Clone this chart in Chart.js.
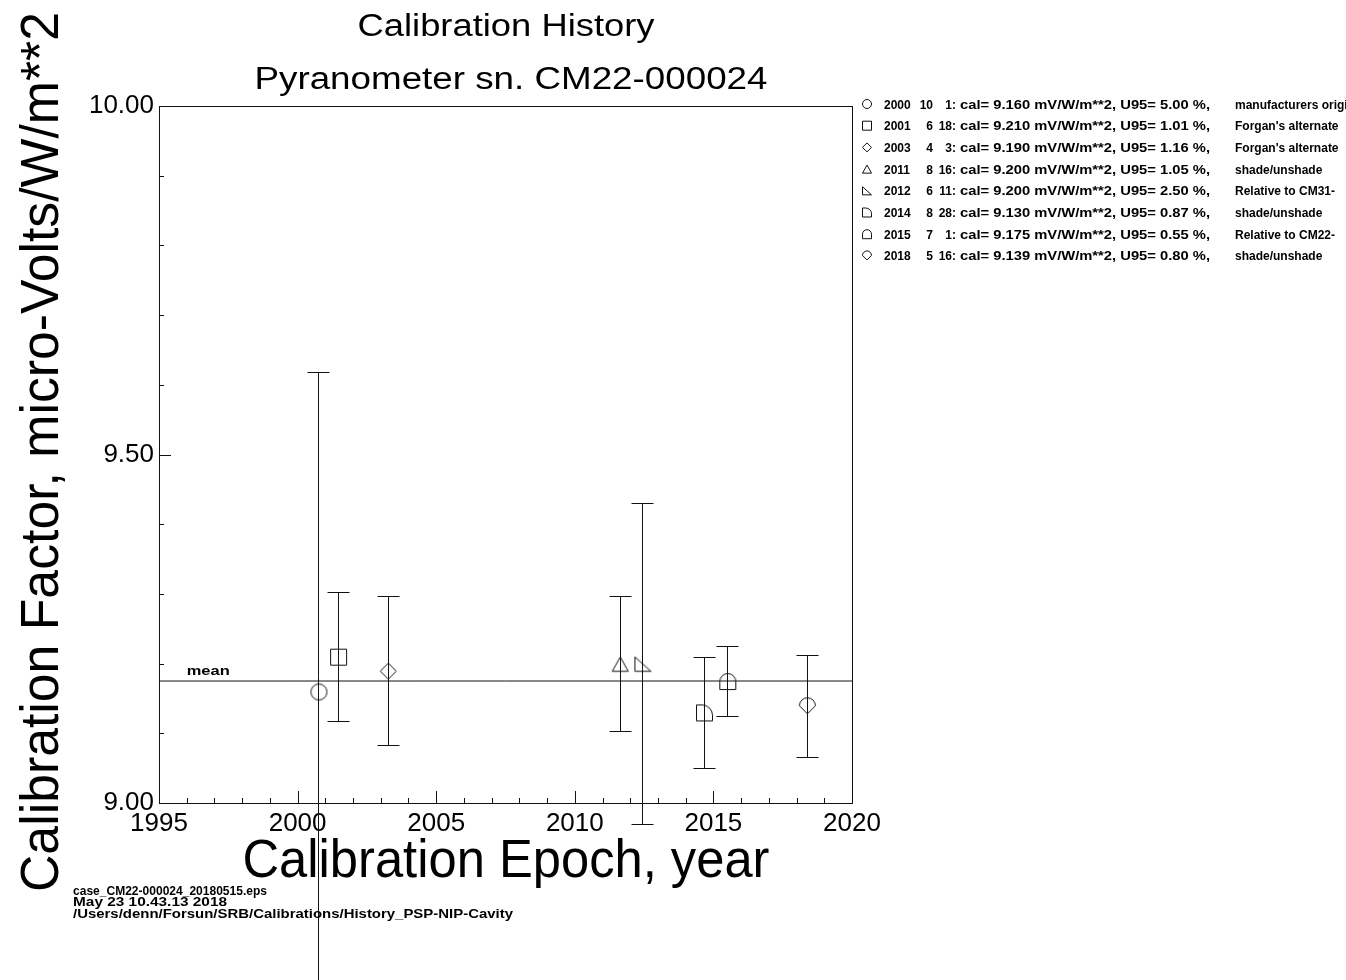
<!DOCTYPE html>
<html><head><meta charset="utf-8">
<script src="https://cdn.jsdelivr.net/npm/chart.js@4.4.1/dist/chart.umd.min.js"></script>
<style>html,body{margin:0;padding:0;background:#fff;} canvas{display:block;}</style>
</head><body>
<canvas id="c" width="1346" height="980"></canvas>
<script>
// ---- data ----
const epochs    = [2000.75, 2001.46, 2003.25, 2011.62, 2012.44, 2014.66, 2015.50, 2018.37];
const years     = [2000, 2001, 2003, 2011, 2012, 2014, 2015, 2018];
const months    = [10, 6, 4, 8, 6, 8, 7, 5];
const days      = [1, 18, 3, 16, 11, 28, 1, 16];
const calValues = [9.160, 9.210, 9.190, 9.200, 9.200, 9.130, 9.175, 9.139];
const u95       = [5.00, 1.01, 1.16, 1.05, 2.50, 0.87, 0.55, 0.80];
const notes     = ["manufacturers original", "Forgan's alternate", "Forgan's alternate", "shade/unshade",
                   "Relative to CM31-", "shade/unshade", "Relative to CM22-", "shade/unshade"];
const shapes    = ['circle', 'square', 'diamond', 'triangle', 'rightTri', 'quarter', 'arch', 'pin'];
const meanValue = 9.175;
const xTickValues = [1995, 2000, 2005, 2010, 2015, 2020];
const yTickValues = [9.00, 9.50, 10.00];
const titleLines = ["Calibration History", "Pyranometer sn. CM22-000024"];
const xTitle = "Calibration Epoch, year";
const yTitle = "Calibration Factor, micro-Volts/W/m**2";
const footerLines = ["case_CM22-000024_20180515.eps", "May 23 10.43.13 2018",
                     "/Users/denn/Forsun/SRB/Calibrations/History_PSP-NIP-Cavity"];

const FONT = '"Liberation Sans", Arial, Helvetica, sans-serif';
const INK = '#111';

function shapePath(ctx, shape, cx, cy, s) {
  ctx.beginPath();
  switch (shape) {
    case 'circle': ctx.arc(cx, cy, s, 0, Math.PI * 2); break;
    case 'square': ctx.rect(cx - s, cy - s, 2 * s, 2 * s); break;
    case 'diamond':
      ctx.moveTo(cx, cy - s); ctx.lineTo(cx + s, cy); ctx.lineTo(cx, cy + s); ctx.lineTo(cx - s, cy); ctx.closePath(); break;
    case 'triangle':
      ctx.moveTo(cx, cy - s * 0.9); ctx.lineTo(cx + s, cy + s * 0.9); ctx.lineTo(cx - s, cy + s * 0.9); ctx.closePath(); break;
    case 'rightTri':
      ctx.moveTo(cx - s, cy - s * 0.9); ctx.lineTo(cx - s, cy + s * 0.9); ctx.lineTo(cx + s, cy + s * 0.9); ctx.closePath(); break;
    case 'quarter':
      ctx.moveTo(cx - s, cy + s); ctx.lineTo(cx - s, cy - s); ctx.lineTo(cx - 0.3 * s, cy - s);
      ctx.arc(cx - 0.3 * s, cy + 0.3 * s, 1.3 * s, -Math.PI / 2, 0); ctx.lineTo(cx + s, cy + s); ctx.closePath(); break;
    case 'arch':
      ctx.moveTo(cx - s, cy + s); ctx.lineTo(cx - s, cy); ctx.arc(cx, cy, s, Math.PI, 0); ctx.lineTo(cx + s, cy + s); ctx.closePath(); break;
    case 'pin':
      ctx.moveTo(cx + s, cy - 0.1 * s); ctx.arc(cx, cy - 0.1 * s, s, 0, Math.PI, true); ctx.lineTo(cx, cy + 0.9 * s); ctx.closePath(); break;
  }
}
function makeMarker(shape, s) {
  const cv = document.createElement('canvas');
  const n = Math.ceil(2 * s + 4);
  cv.width = n; cv.height = n;
  const g = cv.getContext('2d');
  g.strokeStyle = INK; g.lineWidth = 1;
  shapePath(g, shape, n / 2 + 0.5, n / 2 + 0.5, s);
  g.stroke();
  return cv;
}
const markerImgs = shapes.map(s => makeMarker(s, 8));

function fitText(ctx, text, x, y, font, width, align) {
  ctx.save();
  ctx.font = font;
  const w = ctx.measureText(text).width;
  ctx.translate(x, y);
  ctx.scale(width / w, 1);
  ctx.textAlign = align || 'left';
  ctx.textBaseline = 'alphabetic';
  ctx.fillText(text, 0, 0);
  ctx.restore();
}

const decorPlugin = {
  id: 'decor',
  beforeDatasetsDraw(chart) {
    const { ctx, chartArea: a, scales: { x, y } } = chart;
    ctx.save();
    ctx.strokeStyle = INK; ctx.lineWidth = 1;
    // frame
    ctx.strokeRect(Math.round(a.left) + 0.5, Math.round(a.top) + 0.5, Math.round(a.right - a.left), Math.round(a.bottom - a.top));
    // inward minor/major ticks
    ctx.beginPath();
    for (let v = x.min; v <= x.max + 1e-9; v += 1) {
      const px = Math.round(x.getPixelForValue(v)) + 0.5;
      const len = (Math.round(v) % 5 === 0) ? 12 : 5;
      ctx.moveTo(px, a.bottom); ctx.lineTo(px, a.bottom - len);
    }
    for (let k = 0; k <= 10; k++) {
      const v = y.min + k * 0.1;
      const py = Math.round(y.getPixelForValue(v)) + 0.5;
      const len = (k % 5 === 0) ? 12 : 5;
      ctx.moveTo(a.left, py); ctx.lineTo(a.left + len, py);
    }
    ctx.stroke();
    // error bars (no clipping, like the reference)
    ctx.beginPath();
    epochs.forEach((e, i) => {
      const d = calValues[i] * u95[i] / 100;
      const px = Math.round(x.getPixelForValue(e)) + 0.5;
      const top = Math.round(y.getPixelForValue(calValues[i] + d)) + 0.5;
      const bot = Math.round(y.getPixelForValue(calValues[i] - d)) + 0.5;
      ctx.moveTo(px, top); ctx.lineTo(px, bot);
      ctx.moveTo(px - 11, top); ctx.lineTo(px + 11, top);
      ctx.moveTo(px - 11, bot); ctx.lineTo(px + 11, bot);
    });
    ctx.stroke();
    ctx.restore();
  },
  afterDraw(chart) {
    const { ctx, scales: { x, y } } = chart;
    ctx.save();
    ctx.fillStyle = '#000';
    // titles
    fitText(ctx, titleLines[0], 506, 36, '31px ' + FONT, 297, 'center');
    fitText(ctx, titleLines[1], 511, 89, '31px ' + FONT, 513, 'center');
    // axis titles
    fitText(ctx, xTitle, 506, 877, '54px ' + FONT, 527, 'center');
    ctx.save();
    ctx.translate(58, 452);
    ctx.rotate(-Math.PI / 2);
    fitText(ctx, yTitle, 0, 0, '54px ' + FONT, 880, 'center');
    ctx.restore();
    // mean label
    fitText(ctx, 'mean', x.getPixelForValue(1996), y.getPixelForValue(meanValue) - 6, 'bold 13px ' + FONT, 43, 'left');
    // legend
    years.forEach((yr, i) => {
      const cy = 104 + i * 21.7;
      ctx.strokeStyle = INK; ctx.lineWidth = 1;
      shapePath(ctx, shapes[i], 867, cy, 4.5);
      ctx.stroke();
      ctx.font = 'bold 12px ' + FONT;
      ctx.textBaseline = 'alphabetic';
      const by = cy + 4.5;
      ctx.textAlign = 'left'; ctx.fillText(String(yr), 884, by);
      ctx.textAlign = 'right'; ctx.fillText(String(months[i]), 933, by);
      ctx.fillText(String(days[i]) + ':', 956, by);
      fitText(ctx, 'cal= ' + calValues[i].toFixed(3) + ' mV/W/m**2, U95= ' + u95[i].toFixed(2) + ' %,', 960, by, 'bold 12px ' + FONT, 250, 'left');
      ctx.font = 'bold 12px ' + FONT; ctx.textAlign = 'left';
      ctx.fillText(notes[i], 1235, by);
    });
    // footer
    fitText(ctx, footerLines[0], 73, 895, 'bold 13px ' + FONT, 194, 'left');
    fitText(ctx, footerLines[1], 73, 906, 'bold 13px ' + FONT, 154, 'left');
    fitText(ctx, footerLines[2], 73, 918, 'bold 13px ' + FONT, 440, 'left');
    ctx.restore();
  }
};

new Chart(document.getElementById('c'), {
  type: 'scatter',
  data: {
    datasets: [
      {
        label: 'calibrations',
        data: epochs.map((e, i) => ({ x: e, y: calValues[i] })),
        pointStyle: markerImgs,
        pointRadius: 8,
        showLine: false
      },
      {
        label: 'mean',
        data: [{ x: xTickValues[0], y: meanValue }, { x: xTickValues[xTickValues.length - 1], y: meanValue }],
        showLine: true,
        borderColor: INK,
        borderWidth: 1,
        pointRadius: 0
      }
    ]
  },
  options: {
    responsive: false,
    animation: false,
    devicePixelRatio: 1,
    layout: { padding: { left: 0, right: 494, top: 106, bottom: 0 } },
    plugins: { legend: { display: false }, tooltip: { enabled: false }, title: { display: false } },
    scales: {
      x: {
        type: 'linear', min: 1995, max: 2020,
        afterBuildTicks: s => { s.ticks = xTickValues.map(v => ({ value: v })); },
        afterFit: s => { s.height = 177; },
        grid: { display: false, drawTicks: false },
        border: { display: false },
        ticks: { autoSkip: false, maxRotation: 0, padding: 5, color: '#000',
                 font: { family: FONT, size: 26 }, callback: v => String(v) }
      },
      y: {
        type: 'linear', min: 9, max: 10,
        afterBuildTicks: s => { s.ticks = yTickValues.map(v => ({ value: v })); },
        afterFit: s => { s.width = 159; },
        grid: { display: false, drawTicks: false },
        border: { display: false },
        ticks: { autoSkip: false, padding: 5, color: '#000',
                 font: { family: FONT, size: 26 }, callback: v => Number(v).toFixed(2) }
      }
    }
  },
  plugins: [decorPlugin]
});
</script>
</body></html>
